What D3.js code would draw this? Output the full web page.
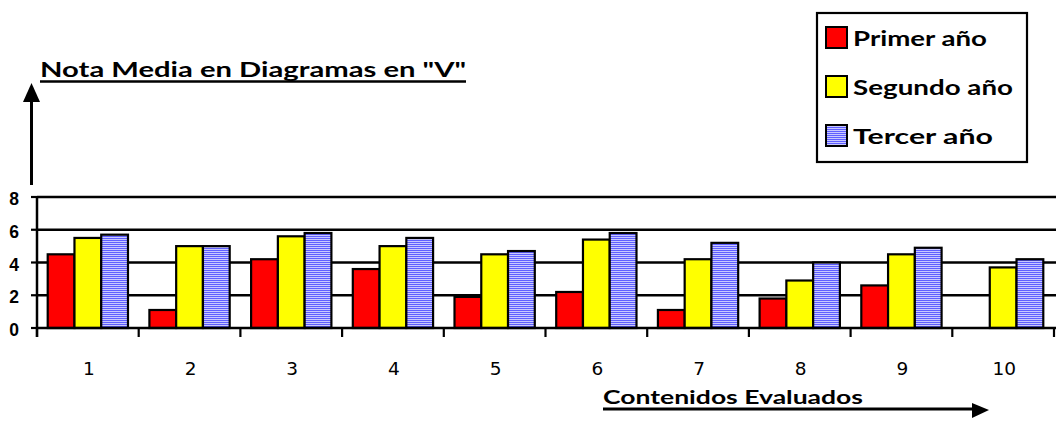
<!DOCTYPE html>
<html><head><meta charset="utf-8">
<script src="https://cdn.jsdelivr.net/npm/d3@7"></script>
<style>body{margin:0;background:#fff}svg{display:block}</style>
</head><body>
<svg id="c" width="1058" height="421"></svg>
<script>
const categories = ["1","2","3","4","5","6","7","8","9","10"];
const seriesNames = ["Primer año","Segundo año","Tercer año"];
const primer  = [4.5, 1.1, 4.2, 3.6, 1.9, 2.2, 1.1, 1.8, 2.6, 0];
const segundo = [5.5, 5.0, 5.6, 5.0, 4.5, 5.4, 4.2, 2.9, 4.5, 3.7];
const tercer  = [5.7, 5.0, 5.8, 5.5, 4.7, 5.8, 5.2, 4.0, 4.9, 4.2];
const yTicks = [0, 2, 4, 6, 8];
const title = 'Nota Media en Diagramas en "V"';
const xTitle = "Contenidos Evaluados";

const values = [primer, segundo, tercer];
const fills = ["#ff0000", "#ffff00", "url(#stripes)"];
const comic = "'Comic Sans MS','Lato','DejaVu Sans',sans-serif";

const svg = d3.select("#c");
const defs = svg.append("defs");
const pat = defs.append("pattern").attr("id","stripes").attr("patternUnits","userSpaceOnUse")
  .attr("width",4).attr("height",2);
pat.append("rect").attr("width",4).attr("height",2).attr("fill","#c8c8ff");
pat.append("rect").attr("width",4).attr("height",1).attr("fill","#5f5fff");

const x0 = d3.scaleBand().domain(categories).range([37, 1054]).paddingInner(0).paddingOuter(0);
const x1 = d3.scaleBand().domain(seriesNames).range([0, x0.bandwidth()]).paddingInner(0).paddingOuter(0.4);
const y = d3.scaleLinear().domain([0, 8]).range([328, 197]);

// gridlines
svg.append("g").selectAll("line").data(yTicks.filter(d => d > 0)).join("line")
  .attr("x1", 37).attr("x2", 1056).attr("y1", d => y(d)).attr("y2", d => y(d))
  .attr("stroke", "#000").attr("stroke-width", 2.5);

// bars
const groups = svg.append("g").selectAll("g").data(categories).join("g")
  .attr("transform", c => `translate(${x0(c)},0)`);
groups.selectAll("rect").data((c, i) => seriesNames.map((s, k) => ({s, k, v: values[k][i]})).filter(d => d.v > 0))
  .join("rect")
  .attr("x", d => x1(d.s)).attr("width", x1.bandwidth())
  .attr("y", d => y(d.v)).attr("height", d => y(0) - y(d.v))
  .attr("fill", d => fills[d.k]).attr("stroke", "#000").attr("stroke-width", 2.2);

// x axis
const xAxisLine = svg.append("g");
xAxisLine.append("line").attr("x1", 37).attr("x2", 1056).attr("y1", y(0)).attr("y2", y(0))
  .attr("stroke", "#000").attr("stroke-width", 2.5);
const bounds = categories.map(c => x0(c)).concat([x0(categories[categories.length-1]) + x0.bandwidth()]);
xAxisLine.selectAll("line.tk").data(bounds).join("line").attr("class","tk")
  .attr("x1", d => d).attr("x2", d => d).attr("y1", y(0)).attr("y2", y(0) + 9)
  .attr("stroke", "#000").attr("stroke-width", 2.2);
xAxisLine.selectAll("text").data(categories).join("text")
  .attr("x", c => x0(c) + x0.bandwidth() / 2 + 1).attr("y", 375)
  .attr("text-anchor", "middle").attr("font-family", "'DejaVu Sans',Verdana,sans-serif")
  .attr("font-size", 18.5).text(c => c);

// y axis
const ya = svg.append("g");
ya.append("line").attr("x1", 37).attr("x2", 37).attr("y1", y(8)).attr("y2", y(0) + 9)
  .attr("stroke", "#000").attr("stroke-width", 2.5);
ya.selectAll("line.tk").data(yTicks).join("line").attr("class","tk")
  .attr("x1", 31).attr("x2", 37).attr("y1", d => y(d)).attr("y2", d => y(d))
  .attr("stroke", "#000").attr("stroke-width", 2.2);
ya.selectAll("text").data(yTicks).join("text")
  .attr("x", 19).attr("y", d => y(d) + 8).attr("text-anchor", "end")
  .attr("font-family", "'Liberation Sans',Arial,sans-serif").attr("font-weight", "bold")
  .attr("font-size", 17.5).text(d => d);

// y arrow
svg.append("line").attr("x1", 31.5).attr("x2", 31.5).attr("y1", 185).attr("y2", 100)
  .attr("stroke", "#000").attr("stroke-width", 3);
svg.append("path").attr("d", "M31.5,83 L23,102 L40,102 Z").attr("fill", "#000");

// title
svg.append("text").attr("x", 40).attr("y", 77).attr("font-family", comic).attr("font-weight", "bold")
  .attr("font-size", 20).attr("textLength", 426).attr("lengthAdjust", "spacingAndGlyphs").text(title);
svg.append("line").attr("x1", 40).attr("x2", 466).attr("y1", 81.5).attr("y2", 81.5)
  .attr("stroke", "#000").attr("stroke-width", 2.5);

// x title with arrow
svg.append("text").attr("x", 603).attr("y", 404).attr("font-family", comic).attr("font-weight", "bold")
  .attr("font-size", 19).attr("textLength", 260).attr("lengthAdjust", "spacingAndGlyphs").text(xTitle);
svg.append("line").attr("x1", 603).attr("x2", 976).attr("y1", 409).attr("y2", 409)
  .attr("stroke", "#000").attr("stroke-width", 3);
svg.append("path").attr("d", "M989,410 L972,403 L972,418 Z").attr("fill", "#000");

// legend
const lg = svg.append("g");
lg.append("rect").attr("x", 817).attr("y", 13).attr("width", 210).attr("height", 149)
  .attr("fill", "#fff").attr("stroke", "#000").attr("stroke-width", 2.2);
const legW = [134, 160, 140];
const rows = lg.selectAll("g").data(seriesNames).join("g")
  .attr("transform", (d, i) => `translate(0,${[27, 76, 125][i]})`);
rows.append("rect").attr("x", 826).attr("y", 0).attr("width", 21).attr("height", 21)
  .attr("fill", (d, i) => fills[i]).attr("stroke", "#000").attr("stroke-width", 2);
rows.append("text").attr("x", 853).attr("y", 19).attr("font-family", comic).attr("font-weight", "bold")
  .attr("font-size", 20).attr("textLength", (d, i) => legW[i]).attr("lengthAdjust", "spacingAndGlyphs")
  .text(d => d);
</script>
</body></html>
